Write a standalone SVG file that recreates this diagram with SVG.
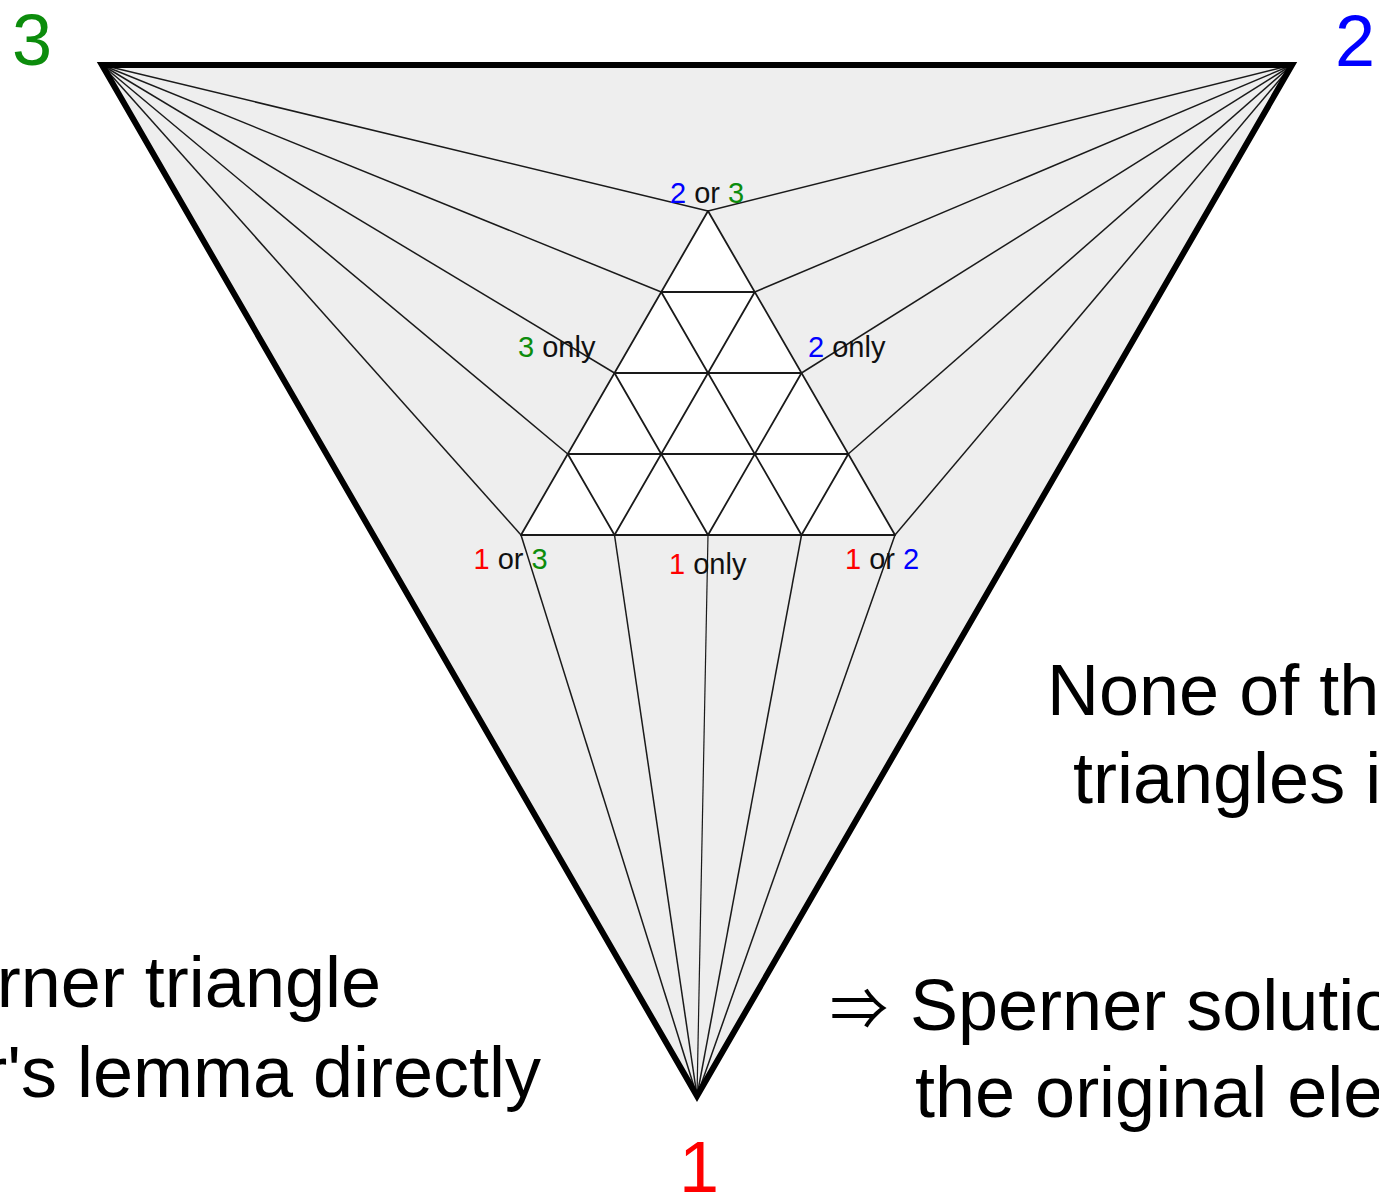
<svg xmlns="http://www.w3.org/2000/svg" width="1379" height="1198" viewBox="0 0 1379 1198">
<style>
.thin{stroke:#1a1a1a;stroke-width:1.5;fill:none}
.grid{stroke:#1a1a1a;stroke-width:1.8;fill:none;stroke-linecap:round}
.big{font-family:"Liberation Sans",Arial,sans-serif;font-size:72px;fill:#000}
.corner{font-family:"Liberation Sans",Arial,sans-serif;font-size:72px}
.lbl{font-family:"Liberation Sans",Arial,sans-serif;font-size:29px;fill:#111}
.g{fill:#0c8c0c}.b{fill:#0000ff}.r{fill:#ff0000}
</style>
<rect width="1379" height="1198" fill="#ffffff"/>
<g id="outer-triangle">
<polygon points="102,65 1292,65 697,1096" fill="#eeeeee" stroke="none"/>
</g>
<g id="inner-triangle">
<polygon points="708,211 895,535 521,535" fill="#ffffff" stroke="none"/>
<line class="grid" x1="661.25" y1="292" x2="754.75" y2="292"/>
<line class="grid" x1="614.5" y1="373" x2="801.5" y2="373"/>
<line class="grid" x1="567.75" y1="454" x2="848.25" y2="454"/>
<line class="grid" x1="521" y1="535" x2="895" y2="535"/>
<line class="grid" x1="521" y1="535" x2="708" y2="211"/>
<line class="grid" x1="614.5" y1="535" x2="754.75" y2="292"/>
<line class="grid" x1="708" y1="535" x2="801.5" y2="373"/>
<line class="grid" x1="801.5" y1="535" x2="848.25" y2="454"/>
<line class="grid" x1="895" y1="535" x2="708" y2="211"/>
<line class="grid" x1="801.5" y1="535" x2="661.25" y2="292"/>
<line class="grid" x1="708" y1="535" x2="614.5" y2="373"/>
<line class="grid" x1="614.5" y1="535" x2="567.75" y2="454"/>
</g>
<g id="connectors">
<line class="thin" x1="102" y1="65" x2="708" y2="211"/>
<line class="thin" x1="102" y1="65" x2="661.25" y2="292"/>
<line class="thin" x1="102" y1="65" x2="614.5" y2="373"/>
<line class="thin" x1="102" y1="65" x2="567.75" y2="454"/>
<line class="thin" x1="102" y1="65" x2="521" y2="535"/>
<line class="thin" x1="1292" y1="65" x2="708" y2="211"/>
<line class="thin" x1="1292" y1="65" x2="754.75" y2="292"/>
<line class="thin" x1="1292" y1="65" x2="801.5" y2="373"/>
<line class="thin" x1="1292" y1="65" x2="848.25" y2="454"/>
<line class="thin" x1="1292" y1="65" x2="895" y2="535"/>
<line class="thin" x1="697" y1="1096" x2="521" y2="535"/>
<line class="thin" x1="697" y1="1096" x2="614.5" y2="535"/>
<line class="thin" x1="697" y1="1096" x2="708" y2="535" style="stroke-width:1.2"/>
<line class="thin" x1="697" y1="1096" x2="801.5" y2="535"/>
<line class="thin" x1="697" y1="1096" x2="895" y2="535"/>
</g>
<g id="outer-edge">
<polygon points="102,65 1292,65 697,1096" fill="none" stroke="#000" stroke-width="6" stroke-linejoin="miter"/>
</g>
<g id="vertex-labels">
<text class="corner g" x="12" y="65">3</text>
<text class="corner b" x="1335" y="66">2</text>
<text class="corner r" x="679" y="1192">1</text>
</g>
<g id="node-labels">
<text class="lbl" x="670" y="203"><tspan class="b">2</tspan> or <tspan class="g">3</tspan></text>
<text class="lbl" x="518" y="357"><tspan class="g">3</tspan> only</text>
<text class="lbl" x="808" y="357"><tspan class="b">2</tspan> only</text>
<text class="lbl" x="473.5" y="569"><tspan class="r">1</tspan> or <tspan class="g">3</tspan></text>
<text class="lbl" x="669" y="574"><tspan class="r">1</tspan> only</text>
<text class="lbl" x="845" y="569"><tspan class="r">1</tspan> or <tspan class="b">2</tspan></text>
</g>
<g id="left-text">
<text class="big" x="381" y="1007" text-anchor="end">rner triangle</text>
<text class="big" x="541" y="1097" text-anchor="end">r's lemma directly</text>
</g>
<g id="right-text">
<text class="big" x="1047" y="715">None of the</text>
<text class="big" x="1073" y="803">triangles is</text>
<text x="830" y="1030" style="font-family:'Noto Sans CJK JP','DejaVu Sans',sans-serif;font-size:58px;fill:#000">⇒</text>
<text class="big" x="910" y="1030">Sperner solution</text>
<text class="big" x="915" y="1117">the original ele</text>
</g>
</svg>
